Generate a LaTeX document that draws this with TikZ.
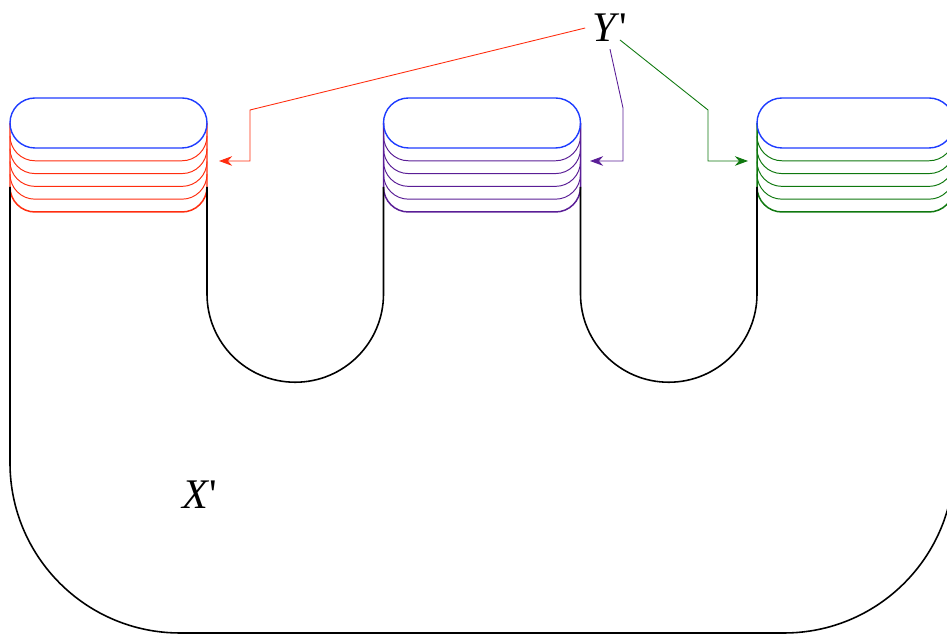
\documentclass[tikz,border=0pt]{standalone}
\usepackage{fontspec}
\setmainfont{Liberation Serif}
\usetikzlibrary{arrows.meta}
\definecolor{capblue}{RGB}{30,60,255}
\definecolor{ringred}{RGB}{255,45,15}
\definecolor{ringpurple}{RGB}{90,30,150}
\definecolor{ringgreen}{RGB}{15,120,15}

\begin{document}
\begin{tikzpicture}[x=0.02cm, y=0.02cm,
        body/.style={draw=black, line width=0.9pt},
        lid/.style={line width=0.8pt, draw=capblue},
        ring/.style={line width=0.55pt},
        ringedge/.style={line width=0.85pt},
        pointer/.style={line width=0.5pt, -{Stealth[length=7.5pt, width=5.5pt]}},
        lbl/.style={font=\fontsize{24}{28}\selectfont, inner sep=4pt}]
    \useasboundingbox (0,0) rectangle (947,634);

    % the three cylinders (left edge / colour of the rings)
    \foreach \L/\col in {10/ringred, 383.5/ringpurple, 757/ringgreen} {
        \foreach \k in {1,...,4}
            \draw[ring, \col] (\L,{511-12.8*\k}) arc (180:270:25) -- ++(147,0) arc (270:360:25);
        \draw[ringedge, \col] (\L,511) -- (\L,447) arc (180:270:25) -- ++(147,0) arc (270:360:25) -- (\L+197,511);
        \draw[lid] (\L+25,486) arc (270:90:25) -- ++(147,0) arc (90:-90:25) -- cycle;
    }

    % the surface below
    \draw[body] (10,447) -- (10,171) arc (180:270:170) -- (784,1) arc (270:360:170) -- (954,447);
    \draw[body] (207,447) -- (207,340) arc (180:360:88.25) -- (383.5,447);
    \draw[body] (580.5,447) -- (580.5,340) arc (180:360:88.25) -- (757,447);

    \node[lbl] (Yp) at (610,606) {\textit{Y}\textquotesingle};
    \node[lbl] (Xp) at (200,139) {\textit{X}\textquotesingle};

    \coordinate (redtip) at (219,473);
    \coordinate (purpletip) at (590,473);
    \coordinate (greentip) at (748,473);
    \draw[pointer, ringred] (Yp.west) -- (250,524) |- (redtip);
    \draw[pointer, ringpurple] (Yp.south) -- (623,526) |- (purpletip);
    \draw[pointer, ringgreen] ([shift={(10,-12)}]Yp.center) -- (708,524) |- (greentip);
\end{tikzpicture}
\end{document}
